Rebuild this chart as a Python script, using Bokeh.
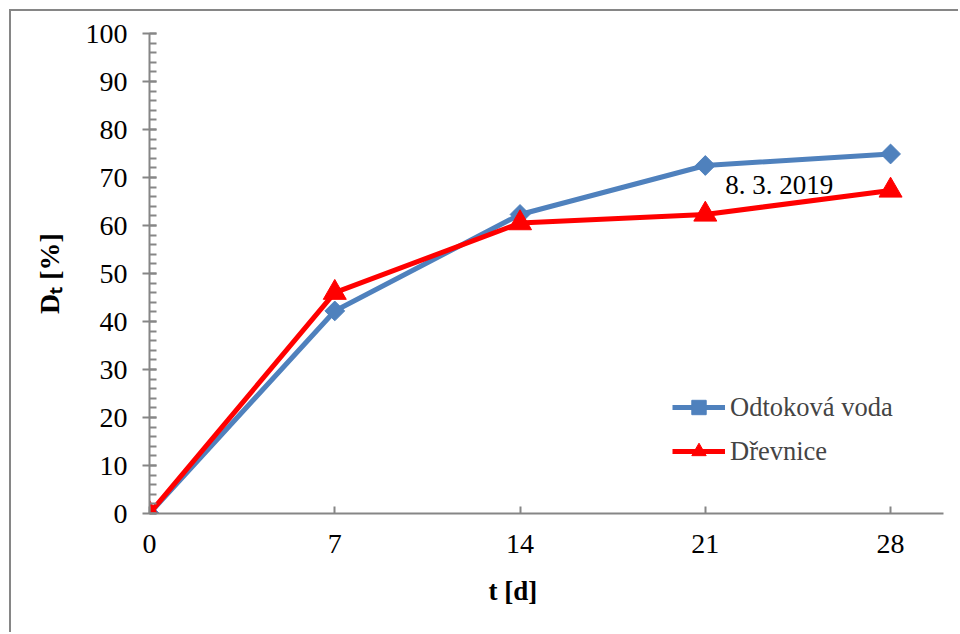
import math
from bokeh.plotting import figure
from bokeh.models import (Range1d, FixedTicker, Label, Legend, LegendItem, Title)
from bokeh.embed import file_html
from bokeh.resources import INLINE

# ---- data ----
days = [0, 7, 14, 21, 28]
odtokova_voda = [0, 42.2, 62.3, 72.5, 74.9]
drevnice = [0, 46.0, 60.5, 62.3, 67.3]
series_names = ["Odtoková voda", "Dřevnice"]
x_ticks = [0, 7, 14, 21, 28]
y_ticks = list(range(0, 101, 10))
y_minor = list(range(0, 101, 2))
annotation_text = "8. 3. 2019"
annotation_pos = (21.75, 68.4)
x_title = "t [d]"
y_title = "D\u209c [%]"

FONT = "Liberation Serif"
AXIS_GREY = "#868686"
BLUE = "#4F81BD"
RED = "#FF0000"

# canvas starts at (11, 11) because of the chart-area border drawn with CSS
p = figure(width=949, height=623, output_backend="svg", toolbar_location=None,
           x_range=Range1d(0, 30), y_range=Range1d(0, 100),
           min_border_left=138, min_border_right=17, min_border_top=22,
           min_border_bottom=121)
p.styles = {"margin-left": "9px", "margin-top": "9px",
            "border-left": "2px solid #868686", "border-top": "2px solid #868686"}
p.outline_line_color = None
p.xgrid.grid_line_color = None
p.ygrid.grid_line_color = None
p.background_fill_color = "white"
p.border_fill_color = "white"

# axes
for ax in (p.xaxis[0], p.yaxis[0]):
    ax.axis_line_color = AXIS_GREY
    ax.axis_line_width = 2
    ax.major_tick_line_color = AXIS_GREY
    ax.major_tick_line_width = 2
    ax.minor_tick_line_color = AXIS_GREY
    ax.minor_tick_line_width = 2
    ax.major_label_text_font = FONT
    ax.major_label_text_font_size = "28px"
    ax.major_label_text_color = "black"

p.xaxis.ticker = FixedTicker(ticks=x_ticks, minor_ticks=[])
p.xaxis.major_tick_in = 7
p.xaxis.major_tick_out = 0
p.xaxis.minor_tick_in = 0
p.xaxis.minor_tick_out = 0
p.xaxis.major_label_standoff = 21
p.xaxis.axis_label = None

p.yaxis.ticker = FixedTicker(ticks=y_ticks, minor_ticks=y_minor)
p.yaxis.major_tick_in = 7
p.yaxis.major_tick_out = 7
p.yaxis.minor_tick_in = 7
p.yaxis.minor_tick_out = 0
p.yaxis.major_label_standoff = 15
p.yaxis.axis_label = y_title
p.yaxis.axis_label_text_font = FONT
p.yaxis.axis_label_text_font_size = "28px"
p.yaxis.axis_label_text_font_style = "bold"
p.yaxis.axis_label_text_color = "black"
p.yaxis.axis_label_standoff = 18

# series
l1 = p.line(days, odtokova_voda, line_color=BLUE, line_width=5)
m1 = p.scatter(days, odtokova_voda, marker="square", size=14, angle=math.pi / 4,
               fill_color=BLUE, line_color=BLUE)
l2 = p.line(days, drevnice, line_color=RED, line_width=5)
m2 = p.scatter(days, drevnice, marker="triangle", size=23,
               fill_color=RED, line_color=RED)

legend = Legend(items=[LegendItem(label=series_names[0], renderers=[l1, m1]),
                       LegendItem(label=series_names[1], renderers=[l2, m2])],
                location=(523, 44))
legend.border_line_color = None
legend.background_fill_alpha = 0
legend.padding = 0
legend.margin = 0
legend.spacing = 8
legend.glyph_width = 53
legend.glyph_height = 36
legend.label_height = 36
legend.label_standoff = 5
legend.label_text_font = FONT
legend.label_text_font_size = "26.5px"
legend.label_text_baseline = "middle"
p.add_layout(legend, "center")

# annotation
p.add_layout(Label(x=annotation_pos[0], y=annotation_pos[1], text=annotation_text,
                   text_font=FONT, text_font_size="27px", text_align="left",
                   text_baseline="alphabetic", text_color="black"))

# x-axis title
p.add_layout(Title(text=x_title, align="left", offset=339, text_font=FONT,
                   text_font_size="27px", text_font_style="bold",
                   text_color="black", standoff=36), "below")

open("out.html", "w").write(file_html(p, INLINE))
